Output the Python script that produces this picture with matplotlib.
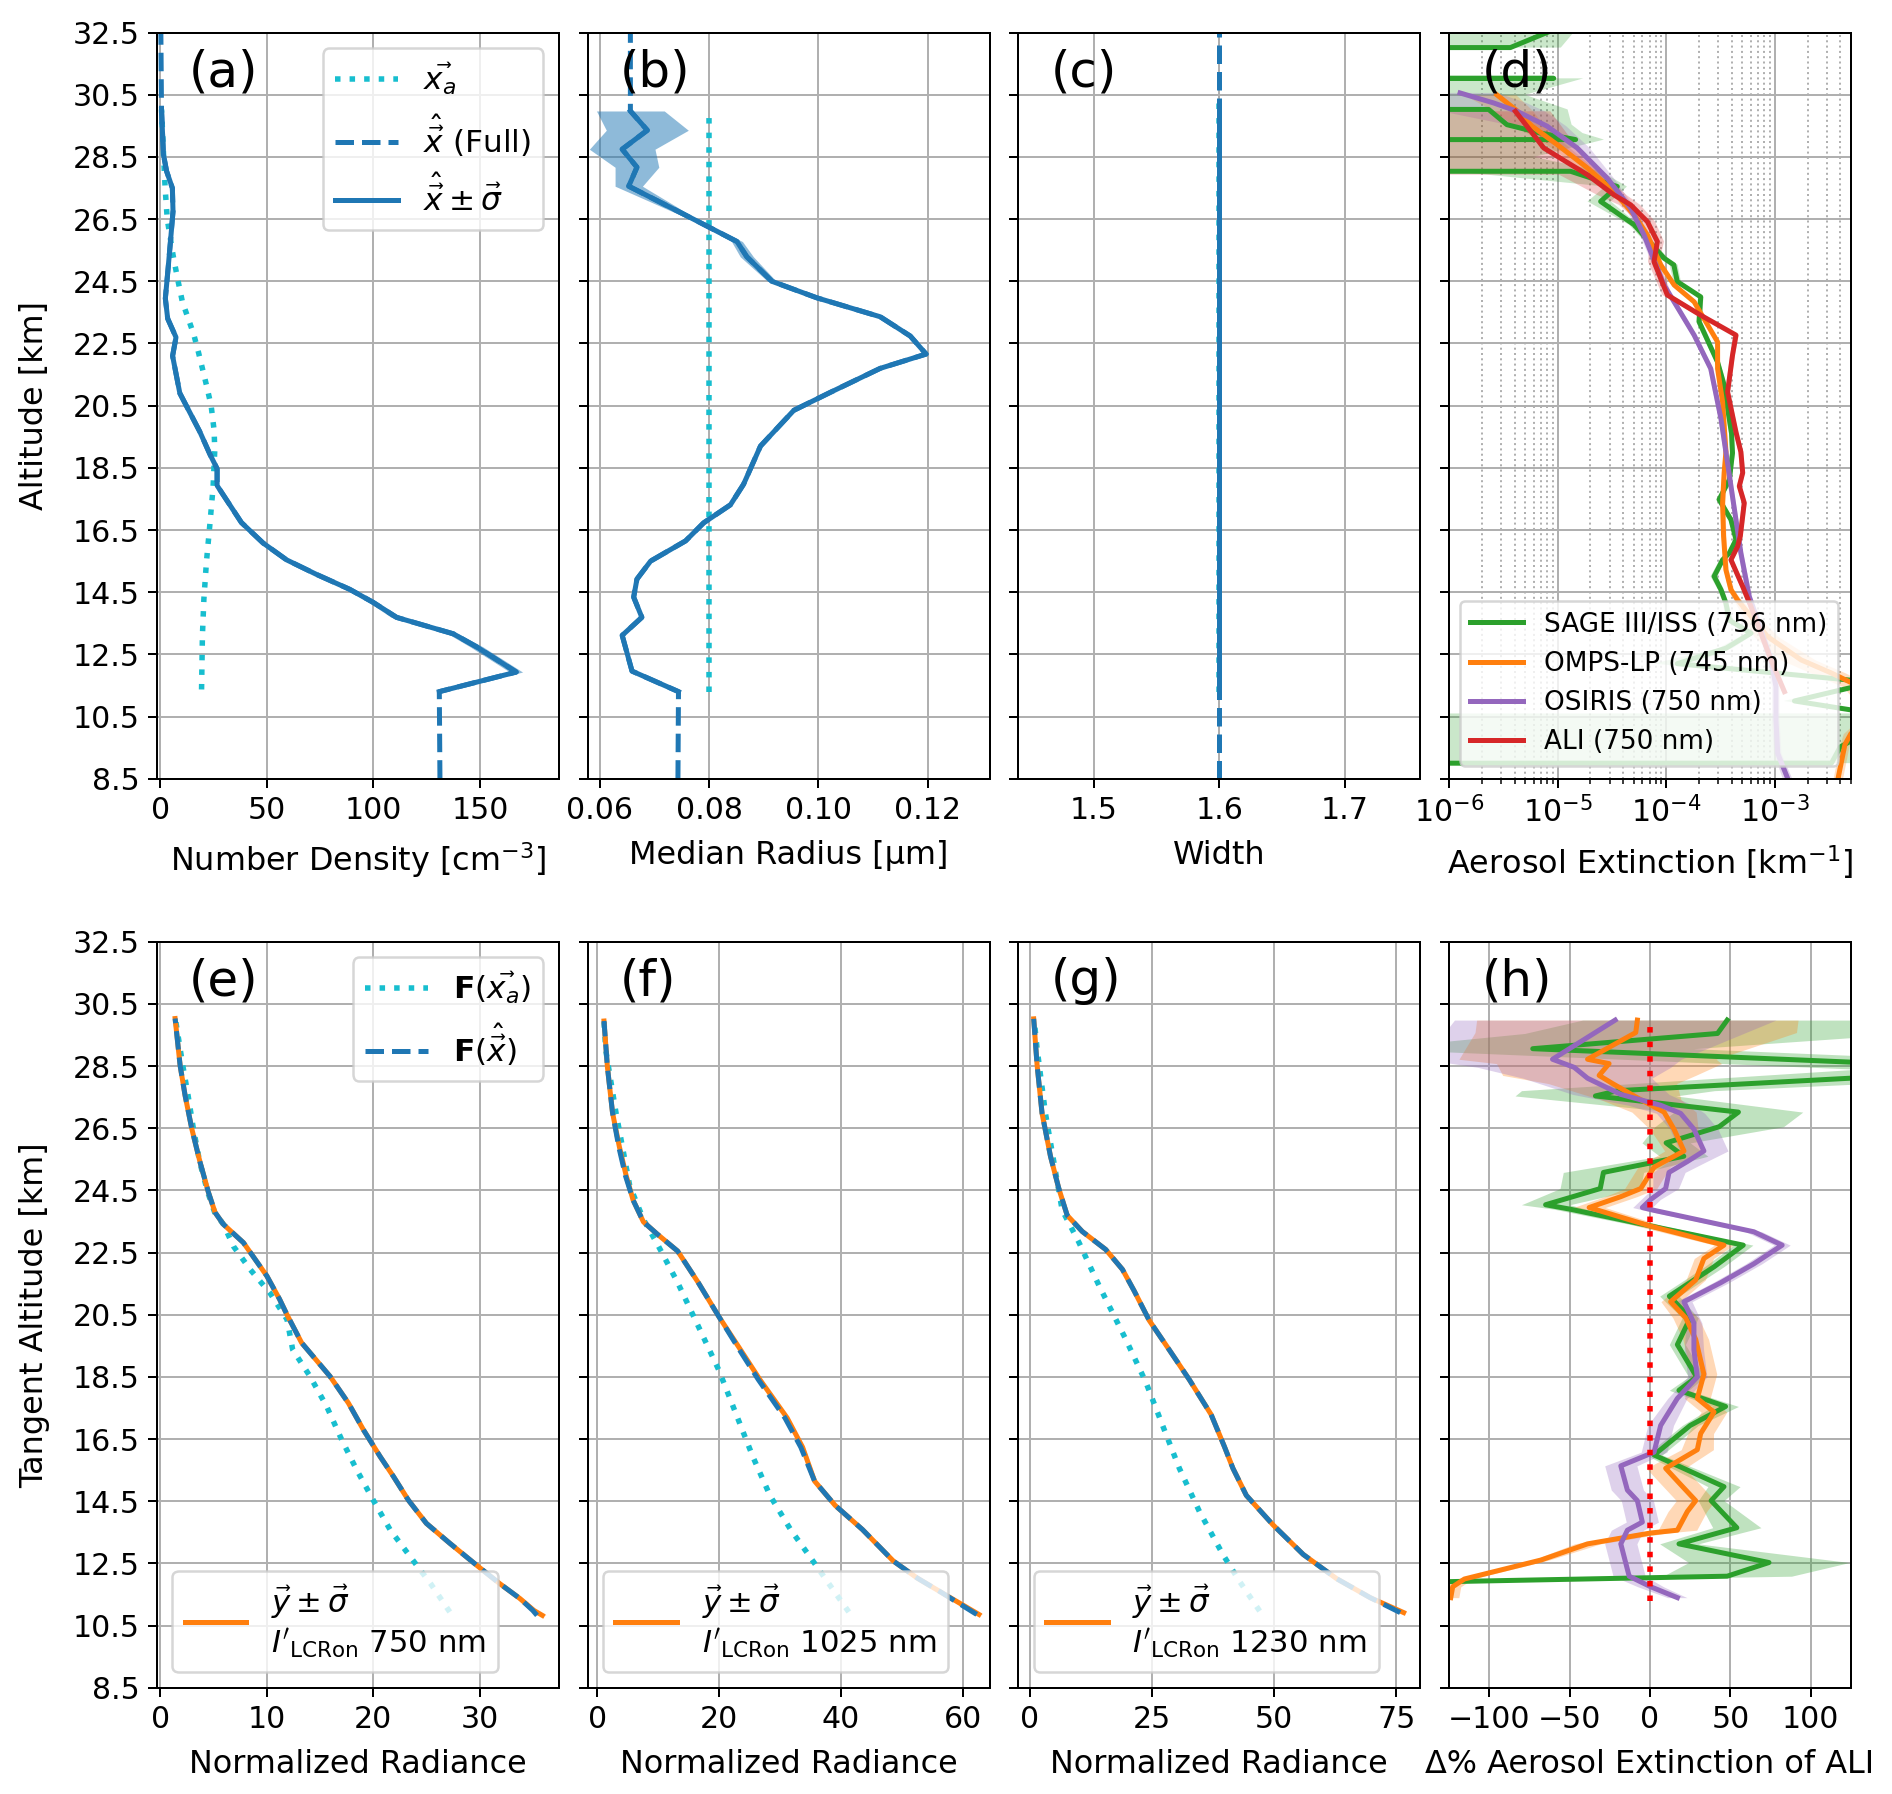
import numpy as np
import matplotlib.pyplot as plt

plt.rcParams['font.size'] = 12
plt.rcParams['axes.labelsize'] = 12.75

# ---------------- retrieved state (panels a-c) ----------------
alt_a = [11.3, 11.93, 12.74, 13.16, 13.69, 14.17, 14.59, 15.07, 15.54, 16.08, 16.74, 17.93, 18.47,
         18.94, 19.66, 20.9, 22.1, 22.7, 23.3, 23.95, 24.92, 25.78, 26.75, 27.5, 28.04, 28.58, 30.03]
n_a = [130.9, 167.0, 148.4, 137.5, 110.8, 99.9, 88.9, 73.3, 59.2, 48.2, 38.0, 26.6, 26.6,
       23.2, 18.5, 9.1, 5.7, 7.3, 3.4, 2.3, 3.6, 4.7, 5.9, 5.6, 2.9, 1.4, 0.5]
sig_n = [1.0, 3.0, 3.0, 2.5, 2.5, 2.0, 2.0, 1.5, 1.5, 1.0, 0.8, 0.6, 0.6,
         0.5, 0.5, 0.4, 0.3, 0.3, 0.3, 0.3, 0.3, 0.3, 0.3, 0.3, 0.3, 0.3, 0.3]
alt_xa_n = [11.37, 13.1, 14.29, 15.48, 16.68, 17.87, 19.06, 19.7, 20.5, 21.16, 22.23, 22.8,
            23.84, 24.6, 25.35, 26.5, 27.5, 28.5, 29.3, 30.03]
xa_n = [19.3, 19.7, 20.4, 21.6, 23.2, 24.7, 25.5, 25.2, 23.8, 21.6, 17.8, 15.6,
        10.3, 8.0, 5.9, 3.2, 2.2, 1.5, 1.0, 0.5]
full_n_bottom = 131.2
full_n_top = 0.2

alt_b = [11.3, 11.96, 13.11, 13.69, 14.34, 14.92, 15.5, 16.15, 16.73, 17.31, 17.97, 19.2, 20.35, 20.93,
         21.7, 22.16, 22.74, 23.36, 23.97, 24.5, 25.29, 25.78, 26.44, 27.56, 28.17, 28.75, 29.36, 29.98]
r_b = [0.0744, 0.0659, 0.0641, 0.0677, 0.0662, 0.0668, 0.0693, 0.0757, 0.0790, 0.0839, 0.0863, 0.0894,
       0.0955, 0.1022, 0.1113, 0.1197, 0.1168, 0.1113, 0.0997, 0.0915, 0.0869, 0.0851, 0.0778, 0.0653,
       0.0668, 0.0641, 0.0687, 0.0656]
sig_r = [0.0002, 0.0002, 0.0002, 0.0002, 0.0002, 0.0002, 0.0002, 0.0002, 0.0002, 0.0002, 0.0002, 0.0002,
         0.0002, 0.0002, 0.0002, 0.0003, 0.0003, 0.0004, 0.0004, 0.0008, 0.0012, 0.0010, 0.0006, 0.0025,
         0.0040, 0.0060, 0.0075, 0.0062]
xa_r = 0.08
full_r_bottom = 0.0743
full_r_top = 0.0656

alt_w = [11.3, 29.98]
w_ret = [1.5994, 1.5994]
alt_xa_w = [11.3, 30.3]
xa_w = [1.6, 1.6]

# ---------------- aerosol extinction (panel d) [km^-1] ----------------
alt_sage = [8.5, 9.0, 9.52, 10.0, 10.6, 11.0, 11.6, 12.2, 12.7, 13.18, 13.6, 14.15, 14.58, 15.01, 15.54,
            15.76, 16.19, 16.83, 17.48, 18.12, 18.98, 19.6, 20.5, 21.16, 21.9, 23.2, 24.0, 24.49, 25.03,
            25.24, 26.32, 27.07, 27.55, 28.04, 28.5, 29.06, 29.27, 29.54, 30.03, 30.5, 31.03, 31.5,
            32.02, 32.5]
ext_sage = [-1.0e-3, 3.31e-3, 3.98e-3, 7.0e-3, 8.0e-3, 1.51e-3, 8.0e-3, 1.26e-4, 3.55e-4, 6.0e-4, 3.80e-4,
            3.53e-4, 3.18e-4, 2.75e-4, 3.29e-4, 3.80e-4, 4.37e-4, 3.93e-4, 3.06e-4, 3.80e-4, 4.06e-4,
            3.98e-4, 3.63e-4, 3.40e-4, 2.96e-4, 2.0e-4, 2.07e-4, 1.26e-4, 1.17e-4, 9.55e-5, 5.04e-5,
            2.48e-5, 3.53e-5, 1.31e-5, -1.0e-5, 1.46e-5, 6.9e-6, 3.4e-6, 2.31e-6, -1.0e-5, 9.18e-6,
            -1.0e-5, 3.66e-6, 7.9e-6]
sig_sage = [5e-4, 6e-3, 8e-3, 8e-3, 1e-3, 3e-4, 1e-3, 5e-5, 5e-5, 6e-5, 3e-5, 2e-5, 2e-5, 2e-5, 2e-5,
            2e-5, 2e-5, 2e-5, 2e-5, 2e-5, 2e-5, 2e-5, 2e-5, 2e-5, 1.5e-5, 1.2e-5, 1.2e-5, 1e-5, 1e-5,
            8e-6, 5e-6, 6e-6, 8e-6, 1.2e-5, 1.6e-5, 1.2e-5, 1.0e-5, 1.0e-5, 1.0e-5, 1.5e-5, 8e-6,
            1.0e-5, 7e-6, 6e-6]

alt_omps = [8.5, 9.6, 9.95, 10.5, 11.0, 11.46, 11.9, 12.32, 13.07, 14.25, 14.58, 15.22, 16.3, 17.37,
            18.34, 19.01, 20.62, 21.69, 22.55, 23.84, 24.38, 25.03, 25.99, 26.64, 27.39, 28.15, 28.9,
            29.5, 30.0, 30.5]
ext_omps = [3.8e-3, 4.4e-3, 5.0e-3, 7.9e-3, 7.9e-3, 6.0e-3, 3.3e-3, 1.74e-3, 8.55e-4, 4.52e-4, 3.93e-4,
            3.53e-4, 3.36e-4, 3.29e-4, 3.40e-4, 3.53e-4, 3.29e-4, 2.96e-4, 2.96e-4, 1.80e-4, 1.18e-4,
            8.87e-5, 6.68e-5, 5.04e-5, 3.29e-5, 1.87e-5, 9.86e-6, 5.75e-6, 4.17e-6, 2.75e-6]
rel_omps = [0.1, 0.1, 0.15, 0.2, 0.3, 0.3, 0.35, 0.35, 0.25, 0.08, 0.06, 0.05, 0.05, 0.05, 0.05,
            0.05, 0.04, 0.04, 0.04, 0.05, 0.05, 0.05, 0.06, 0.08, 0.1, 0.15, 0.2, 0.3, 0.4, 0.5]

alt_osiris = [8.5, 9.31, 10.38, 11.46, 12.32, 13.28, 14.36, 15.76, 16.83, 17.91, 19.01, 20.08, 21.69,
              22.77, 24.38, 25.99, 26.85, 27.82, 28.79, 29.49, 29.97, 30.24, 30.56]
ext_osiris = [1.31e-3, 1.06e-3, 1.02e-3, 1.02e-3, 9.18e-4, 7.43e-4, 5.79e-4, 4.85e-4, 4.37e-4, 3.93e-4,
              3.53e-4, 3.18e-4, 2.56e-4, 1.80e-4, 9.51e-5, 6.22e-5, 4.69e-5, 2.85e-5, 1.51e-5, 7.98e-6,
              4.22e-6, 2.56e-6, 1.26e-6]
rel_osiris = [0.1, 0.08, 0.08, 0.08, 0.08, 0.07, 0.06, 0.05, 0.05, 0.05, 0.05, 0.05, 0.05,
              0.05, 0.06, 0.08, 0.1, 0.15, 0.3, 0.5, 0.8, 1.0, 1.2]

alt_ali = [11.3, 12.32, 13.18, 14.04, 14.68, 15.54, 15.97, 16.3, 17.37, 17.91, 18.34, 19.01, 19.65, 20.94,
           22.12, 22.77, 23.41, 24.06, 25.13, 25.78, 26.42, 26.96, 27.28, 27.93, 28.79, 29.97]
ext_ali = [1.22e-3, 9.18e-4, 7.43e-4, 6.0e-4, 5.04e-4, 3.93e-4, 4.52e-4, 4.79e-4, 5.21e-4, 4.69e-4, 5.04e-4,
           4.85e-4, 4.37e-4, 3.66e-4, 4.06e-4, 4.37e-4, 2.07e-4, 1.02e-4, 7.69e-5, 8.26e-5, 6.68e-5,
           4.69e-5, 3.29e-5, 1.87e-5, 7.43e-6, 4.07e-6]
rel_ali = [0.05, 0.05, 0.05, 0.05, 0.05, 0.05, 0.05, 0.05, 0.05, 0.05, 0.05, 0.05, 0.05, 0.05,
           0.05, 0.06, 0.08, 0.1, 0.12, 0.15, 0.18, 0.22, 0.3, 0.45, 1.05, 1.1]

# ---------------- percent difference vs ALI (panel h) ----------------
alt_sage_h = [11.9, 12.09, 12.53, 13.13, 13.65, 14.52, 14.97, 15.99, 16.94, 17.55, 18.07, 18.5, 19.54,
              20.4, 21.1, 22.05, 22.74, 23.9, 24.04, 24.56, 25.08, 25.6, 26.03, 26.55, 27.02, 27.54,
              27.71, 28.4, 29.06, 29.55, 29.98]
d_sage = [-140, 48, 74, 18, 54, 38, 46, 2.5, 25, 47, 18, 29, 17, 25, 12, 40, 58, -50, -65, -31, -29,
          21, 10, 43, 55, -34, -20, 229, -73, 42, 48]
sd_sage = [10, 40, 50, 12, 15, 8, 10, 5, 5, 8, 6, 5, 5, 5, 6, 6, 6, 10, 15, 25, 25, 15, 15, 40, 40,
           50, 60, 100, 100, 120, 90]

alt_omps_h = [11.4, 11.75, 12.0, 12.61, 13.13, 13.48, 13.57, 14.17, 14.52, 15.04, 15.56, 16.16, 16.68,
              17.37, 17.81, 18.59, 19.71, 20.4, 20.92, 21.62, 22.31, 22.74, 23.35, 23.95, 24.3, 24.56,
              25.25, 25.77, 26.47, 27.02, 27.42, 27.94, 28.2, 28.58, 28.72, 29.58, 29.98]
d_omps = [-124, -122.8, -115.5, -67.9, -38.9, 0.4, 17, 23.2, 28.4, 19, 9.7, 29.4, 31.5, 39.8, 29.4,
          33.5, 28.4, 22.2, 12.8, 28.4, 33.5, 46, 0.4, -37.9, -18.2, -5.8, 2.5, 21.1, 14.9, 8.7, -5.8,
          -23.4, -31.7, -25.5, -38.9, -8.9, -7.9]
sd_omps = [5, 5, 5, 5, 8, 10, 12, 12, 12, 12, 12, 10, 8, 8, 8, 8, 8, 8, 6, 6, 6, 6, 8, 10, 10, 10,
           10, 12, 15, 20, 25, 40, 60, 70, 80, 100, 100]

alt_osiris_h = [11.4, 11.75, 12.09, 13.13, 13.57, 13.83, 14.52, 14.86, 15.64, 16.08, 16.94, 17.81, 18.5,
                19.37, 20.23, 20.92, 21.53, 22.14, 22.74, 23.17, 23.86, 23.95, 24.21, 24.56, 25.08,
                25.43, 25.77, 26.47, 26.98, 27.24, 27.59, 28.11, 28.46, 28.72, 29.98]
d_osiris = [17, 0.4, -13, -18.2, -14.1, -4.8, -7.9, -14.1, -18.2, 2.5, 6.6, 17, 29.4, 27.3, 27.3, 21.1,
            43.9, 64.6, 82.2, 64.6, 2.5, -4.8, 0.4, 9.7, 11.8, 23.2, 33.5, 27.3, 19, 6.6, -18.2,
            -38.9, -47.2, -60.7, -21.7]
sd_osiris = [6, 8, 10, 10, 10, 10, 10, 10, 10, 8, 8, 6, 6, 6, 5, 5, 5, 5, 5, 5, 6, 6, 6, 8, 10, 12,
             15, 15, 15, 20, 30, 40, 60, 80, 100]

# ---------------- radiances (panels e-g) ----------------
alt_e = [10.83, 10.99, 11.37, 11.85, 12.45, 13.15, 13.79, 14.54, 15.3, 15.94, 16.8, 17.66, 18.52, 19.6,
         20.5, 21.0, 21.75, 22.82, 23.41, 23.79, 24.44, 25.4, 26.48, 27.55, 28.52, 30.03]
y_e = [35.9, 35.1, 33.8, 31.9, 29.7, 27.2, 25.0, 23.3, 21.9, 20.65, 19.08, 17.67, 15.94, 13.27,
       11.9, 11.2, 10.0, 7.8, 5.92, 5.14, 4.51, 3.73, 2.95, 2.32, 1.85, 1.38]
fx_e = [35.4, 35.0, 33.8, 31.9, 29.7, 27.2, 25.0, 23.3, 21.9, 20.65, 19.08, 17.67, 15.94, 13.27,
        11.9, 11.2, 10.0, 7.8, 5.92, 5.14, 4.51, 3.73, 2.95, 2.32, 1.85, 1.38]
alt_fxa_e = [10.94, 11.85, 12.71, 13.58, 14.54, 15.51, 16.48, 17.55, 18.52, 19.38, 20.35, 21.2, 21.96,
             22.7, 23.41, 23.79, 24.44, 25.4, 26.48, 27.55, 28.52, 30.03]
fxa_e = [27.2, 25.4, 23.5, 21.6, 20.0, 18.45, 17.04, 15.63, 14.06, 12.43, 11.9, 10.3, 8.43,
         6.87, 5.92, 5.1, 4.45, 3.7, 3.1, 2.6, 2.1, 1.4]

alt_f = [10.86, 11.57, 12.03, 12.58, 13.59, 14.37, 15.15, 16.24, 17.18, 18.42, 19.44, 20.45, 21.54,
         22.55, 23.1, 23.49, 24.19, 24.97, 25.9, 27.0, 28.47, 29.95]
y_f = [62.66, 56.47, 52.53, 48.59, 43.53, 39.03, 35.66, 33.69, 31.16, 26.66, 23.28, 19.91, 16.54,
       13.16, 9.79, 7.54, 5.85, 4.72, 3.6, 2.47, 1.63, 1.07]
fx_f = [62.3, 56.47, 52.53, 48.59, 43.53, 39.03, 35.66, 33.4, 30.8, 26.4, 23.1, 19.91, 16.54,
        13.16, 9.79, 7.54, 5.85, 4.6, 3.5, 2.47, 1.63, 1.07]
alt_fxa_f = [10.94, 11.72, 12.66, 13.59, 14.68, 15.93, 17.33, 18.73, 20.14, 21.54, 22.79, 23.57, 24.66,
             27.0, 29.02, 29.95]
fxa_f = [41.28, 38.47, 35.1, 31.72, 28.35, 25.53, 22.72, 19.91, 16.54, 13.16, 9.79, 7.54, 5.29,
         3.04, 1.35, 1.07]

alt_g = [10.92, 11.4, 12.01, 12.79, 13.74, 14.69, 15.56, 16.25, 17.29, 18.41, 19.37, 20.32, 21.27,
         21.96, 22.6, 23.18, 23.7, 24.56, 25.6, 26.98, 28.54, 30.02]
y_g = [76.5, 69.66, 62.8, 55.96, 49.79, 44.32, 41.58, 39.86, 37.12, 32.67, 28.56, 24.45, 21.37,
       18.97, 15.55, 10.75, 7.67, 5.96, 4.25, 2.53, 1.51, 0.82]
fx_g = [75.8, 69.66, 62.8, 55.96, 49.79, 44.32, 41.58, 39.86, 37.12, 32.67, 28.56, 24.45, 21.37,
        18.97, 15.55, 10.75, 7.67, 5.96, 4.25, 2.53, 1.51, 0.82]
alt_fxa_g = [10.97, 11.92, 12.79, 14.17, 15.56, 16.94, 18.33, 19.71, 21.44, 22.83, 23.87, 26.98,
             29.06, 30.02]
fxa_g = [47.05, 42.95, 39.52, 34.73, 30.62, 27.19, 23.77, 19.66, 14.18, 10.07, 6.64, 3.22, 1.51, 0.9]

wavelengths = ['750 nm', '1025 nm', '1230 nm']

# ------------------------------------------------------------------
fig, axes = plt.subplots(2, 4, sharey=True, figsize=(1892 / 180, 1794 / 180), dpi=180)
fig.subplots_adjust(left=0.083, right=0.9783, bottom=0.0592, top=0.9818, wspace=0.072, hspace=0.2186)

lab_xa = r'$\vec{x_a}$'
lab_full = r'$\hat{\vec{x}}$ (Full)'
lab_ret = r'$\hat{\vec{x}} \pm \vec{\sigma}$'


def state_panel(ax, alt, val, sig, alt_xa, xa, bottom, top, fill=True):
    ax.plot(xa, alt_xa, ':', color='tab:cyan', lw=2.2, label=lab_xa)
    full_alt = [8.5] + list(alt) + [32.5]
    full_val = [bottom] + list(val) + [top]
    ax.plot(full_val, full_alt, '--', color='tab:blue', lw=2, label=lab_full)
    if fill:
        v = np.array(val)
        s = np.array(sig)
        ax.fill_betweenx(alt, v - s, v + s, color='tab:blue', alpha=0.5, lw=0)
    ax.plot(val, alt, color='tab:blue', lw=2, label=lab_ret)


ax = axes[0, 0]
state_panel(ax, alt_a, n_a, sig_n, alt_xa_n, xa_n, full_n_bottom, full_n_top)
ax.legend(loc='upper right', fontsize=12.5)
ax.set_xlim(-1.6, 187)
ax.set_xticks([0, 50, 100, 150])
ax.set_xlabel(r'Number Density [cm$^{-3}$]', labelpad=6)
ax.set_ylabel('Altitude [km]', labelpad=9)

ax = axes[0, 1]
state_panel(ax, alt_b, r_b, sig_r, [alt_b[0], alt_b[-1]], [xa_r, xa_r], full_r_bottom, full_r_top)
ax.set_xlim(0.0578, 0.1313)
ax.set_xticks([0.06, 0.08, 0.10, 0.12])
ax.set_xlabel('Median Radius [µm]', labelpad=6)

ax = axes[0, 2]
state_panel(ax, alt_w, w_ret, None, alt_xa_w, xa_w, w_ret[0], w_ret[-1], fill=False)
ax.set_xlim(1.44, 1.76)
ax.set_xticks([1.5, 1.6, 1.7])
ax.set_xlabel('Width', labelpad=6)

ax = axes[0, 3]
ax.set_xscale('log')
series_d = [
    (alt_sage, ext_sage, np.array(sig_sage), 'tab:green', 'SAGE III/ISS (756 nm)'),
    (alt_omps, ext_omps, np.array(rel_omps) * np.array(ext_omps), 'tab:orange', 'OMPS-LP (745 nm)'),
    (alt_osiris, ext_osiris, np.array(rel_osiris) * np.array(ext_osiris), 'tab:purple', 'OSIRIS (750 nm)'),
    (alt_ali, ext_ali, np.array(rel_ali) * np.array(ext_ali), 'tab:red', 'ALI (750 nm)'),
]
for alt, ext, sig, col, lab in series_d:
    e = np.array(ext)
    ax.fill_betweenx(alt, e - sig, e + sig, color=col, alpha=0.25, lw=0)
    ax.plot(ext, alt, color=col, lw=2, label=lab)
ax.set_xlim(1e-6, 5e-3)
ax.grid(True, which='minor', linestyle=':', color='#b0b0b0', lw=0.8)
ax.legend(loc='lower right', fontsize=10.5)
ax.set_xlabel(r'Aerosol Extinction [km$^{-1}$]', labelpad=6)

# radiance panels
rad = [(alt_e, y_e, fx_e, alt_fxa_e, fxa_e, [0, 10, 20, 30], (-0.32, 37.45)),
       (alt_f, y_f, fx_f, alt_fxa_f, fxa_f, [0, 20, 40, 60], (-1.6, 64.4)),
       (alt_g, y_g, fx_g, alt_fxa_g, fxa_g, [0, 25, 50, 75], (-2.3, 79.9))]
for i, (alt, y, fx, alt_xa, fxa, ticks, lims) in enumerate(rad):
    ax = axes[1, i]
    h_xa, = ax.plot(fxa, alt_xa, ':', color='tab:cyan', lw=2.2, label=r'$\mathbf{F}(\vec{x_a})$')
    yy = np.array(y)
    ax.fill_betweenx(alt, yy * 0.99, yy * 1.01, color='tab:orange', alpha=0.3, lw=0)
    h_y, = ax.plot(y, alt, color='tab:orange', lw=2,
                   label='$\\vec{y} \\pm \\vec{\\sigma}$\n$I\'_{\\mathrm{LCRon}}$ ' + wavelengths[i])
    h_fx, = ax.plot(fx, alt, '--', color='tab:blue', lw=2, label=r'$\mathbf{F}(\hat{\vec{x}})$')
    if i == 0:
        leg = ax.legend(handles=[h_xa, h_fx], loc='upper right', fontsize=12.5)
        ax.add_artist(leg)
    ax.legend(handles=[h_y], loc='lower left', fontsize=12.3)
    ax.set_xlim(*lims)
    ax.set_xticks(ticks)
    ax.set_xlabel('Normalized Radiance', labelpad=6)
axes[1, 0].set_ylabel('Tangent Altitude [km]', labelpad=9)

ax = axes[1, 3]
for alt, d, sd, col in [(alt_sage_h, d_sage, sd_sage, 'tab:green'),
                        (alt_omps_h, d_omps, sd_omps, 'tab:orange'),
                        (alt_osiris_h, d_osiris, sd_osiris, 'tab:purple')]:
    dd = np.array(d, dtype=float)
    ss = np.array(sd, dtype=float)
    ax.fill_betweenx(alt, dd - ss, dd + ss, color=col, alpha=0.3, lw=0)
    ax.plot(d, alt, color=col, lw=2)
ali = np.array(ext_ali)
ax.plot((ali - ali) / ali * 100, alt_ali, ':', color='red', lw=2.2)
ax.set_xlim(-125, 125)
ax.set_xticks([-100, -50, 0, 50, 100])
ax.set_xlabel('Δ% Aerosol Extinction of ALI', labelpad=6)

for ax, lab in zip(axes.flat, 'abcdefgh'):
    ax.grid(True, which='major')
    ax.set_axisbelow(True)
    ax.text(0.08, 0.947, '(%s)' % lab, transform=ax.transAxes, fontsize=20, va='center', ha='left')

axes[0, 0].set_ylim(8.5, 32.5)
axes[0, 0].set_yticks(np.arange(8.5, 32.6, 2))

fig.savefig('out.png', dpi=180)
